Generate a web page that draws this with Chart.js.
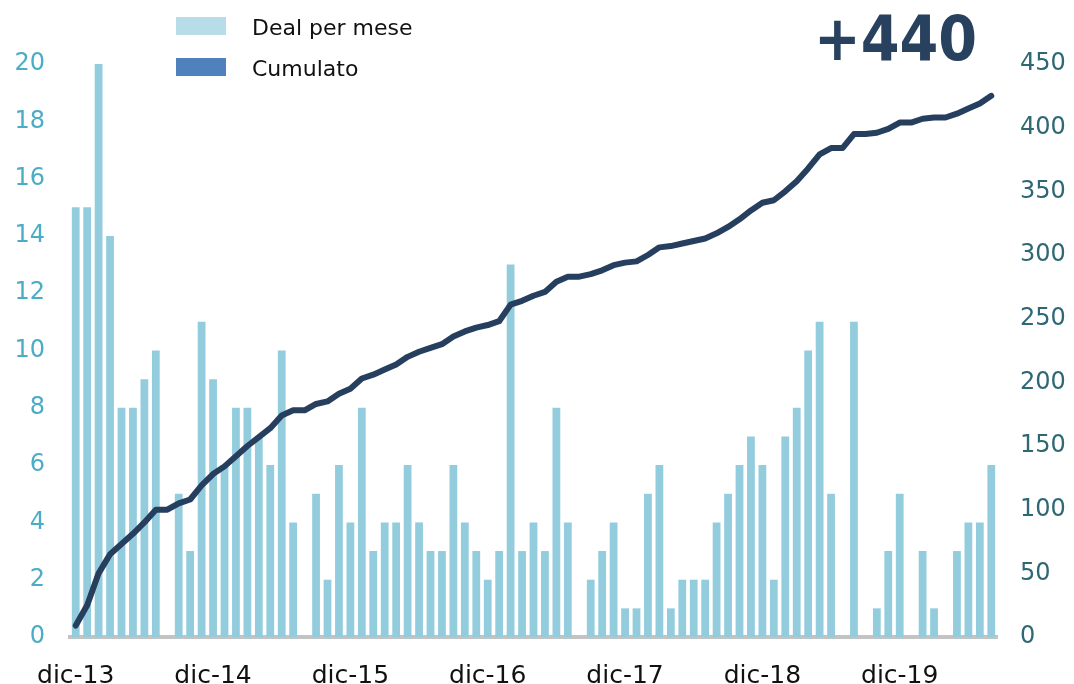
<!DOCTYPE html>
<html>
<head>
<meta charset="utf-8">
<script src="https://cdn.jsdelivr.net/npm/chart.js@4"></script>
<style>
  html, body { margin: 0; padding: 0; background: #ffffff; }
  #wrap { position: relative; width: 1074px; height: 684px; }
  canvas { display: block; }
</style>
</head>
<body>
<div id="wrap"><canvas id="c" width="1074" height="684"></canvas></div>
<script>
// ---- data ----
const categories = [
  "dic-13",
  "gen-14","feb-14","mar-14","apr-14","mag-14","giu-14","lug-14","ago-14","set-14","ott-14","nov-14","dic-14",
  "gen-15","feb-15","mar-15","apr-15","mag-15","giu-15","lug-15","ago-15","set-15","ott-15","nov-15","dic-15",
  "gen-16","feb-16","mar-16","apr-16","mag-16","giu-16","lug-16","ago-16","set-16","ott-16","nov-16","dic-16",
  "gen-17","feb-17","mar-17","apr-17","mag-17","giu-17","lug-17","ago-17","set-17","ott-17","nov-17","dic-17",
  "gen-18","feb-18","mar-18","apr-18","mag-18","giu-18","lug-18","ago-18","set-18","ott-18","nov-18","dic-18",
  "gen-19","feb-19","mar-19","apr-19","mag-19","giu-19","lug-19","ago-19","set-19","ott-19","nov-19","dic-19",
  "gen-20","feb-20","mar-20","apr-20","mag-20","giu-20","lug-20","ago-20"
];
const dealPerMese = [
  15,
  15,20,14,8,8,9,10,0,5,3,11,9,
  6,8,8,7,6,10,4,0,5,2,6,4,
  8,3,4,4,6,4,3,3,6,4,3,2,
  3,13,3,4,3,8,4,0,2,3,4,1,
  1,5,6,1,2,2,2,4,5,6,7,6,
  2,7,8,10,11,5,0,11,0,1,3,5,
  0,3,1,0,3,4,4,6
];
const cumulato = [
  9,
  25,50,65,73,81,90,100,100,105,108,119,128,
  134,142,150,157,164,174,178,178,183,185,191,195,
  203,206,210,214,220,224,227,230,236,240,243,245,
  248,261,264,268,271,279,283,283,285,288,292,294,
  295,300,306,307,309,311,313,317,322,328,335,341,
  343,350,358,368,379,384,384,395,395,396,399,404,
  404,407,408,408,411,415,419,425
];
const leftTicks = [0,2,4,6,8,10,12,14,16,18,20];
const rightTicks = [0,50,100,150,200,250,300,350,400,450];
const seriesNames = ["Deal per mese", "Cumulato"];
const headline = "+440";

const FONT = "'DejaVu Sans', sans-serif";

const overlay = {
  id: 'overlay',
  afterDraw(chart) {
    const ctx = chart.ctx;
    ctx.save();
    // legend
    ctx.fillStyle = '#b7dee8';
    ctx.fillRect(176, 17, 50, 18);
    ctx.fillStyle = '#4f81bd';
    ctx.fillRect(176, 58, 50, 18);
    ctx.fillStyle = '#111111';
    ctx.font = "22px " + FONT;
    ctx.textBaseline = 'alphabetic';
    ctx.textAlign = 'left';
    ctx.fillText(seriesNames[0], 252, 35);
    ctx.fillText(seriesNames[1], 252, 76);
    // headline
    ctx.fillStyle = '#27415f';
    ctx.font = "bold 62px 'DejaVu Sans Condensed', 'DejaVu Sans', sans-serif";
    ctx.fillText(headline, 814, 60);
    ctx.restore();
  }
};

new Chart(document.getElementById('c'), {
  type: 'bar',
  data: {
    labels: categories,
    datasets: [
      {
        type: 'line',
        label: seriesNames[1],
        data: cumulato,
        yAxisID: 'y2',
        borderColor: '#263f5f',
        backgroundColor: '#4f81bd',
        borderWidth: 6,
        pointRadius: 0,
        tension: 0,
        borderCapStyle: 'round',
        borderJoinStyle: 'round',
        order: 0
      },
      {
        type: 'bar',
        label: seriesNames[0],
        data: dealPerMese,
        yAxisID: 'y',
        backgroundColor: '#93cddd',
        borderWidth: 0,
        barPercentage: 0.68,
        categoryPercentage: 1,
        order: 1
      }
    ]
  },
  options: {
    responsive: false,
    animation: false,
    devicePixelRatio: 1,
    layout: { padding: { top: 64, bottom: 0, left: 0, right: 0 } },
    plugins: {
      legend: { display: false },
      tooltip: { enabled: false }
    },
    scales: {
      x: {
        offset: true,
        grid: { display: false, drawTicks: false },
        border: { display: true, color: '#c3c3c3', width: 4 },
        ticks: {
          autoSkip: false,
          maxRotation: 0,
          minRotation: 0,
          padding: 24,
          color: '#111111',
          font: { family: FONT, size: 25 },
          callback: function(v, i) {
            const l = categories[i];
            return l.startsWith('dic') ? l : null;
          }
        },
        afterFit: function(s) { s.height = 47; }
      },
      y: {
        position: 'left',
        min: 0, max: 20,
        afterBuildTicks: function(s) { s.ticks = leftTicks.map(v => ({ value: v })); },
        grid: { display: false, drawTicks: false },
        border: { display: false },
        ticks: {
          padding: 25,
          color: '#4bacc6',
          font: { family: FONT, size: 24 }
        },
        afterFit: function(s) { s.width = 70; }
      },
      y2: {
        position: 'right',
        min: 0, max: 450,
        afterBuildTicks: function(s) { s.ticks = rightTicks.map(v => ({ value: v })); },
        grid: { display: false, drawTicks: false },
        border: { display: false },
        ticks: {
          padding: 23,
          color: '#2e6875',
          font: { family: FONT, size: 24 }
        },
        afterFit: function(s) { s.width = 77; }
      }
    }
  },
  plugins: [overlay]
});
</script>
</body>
</html>
